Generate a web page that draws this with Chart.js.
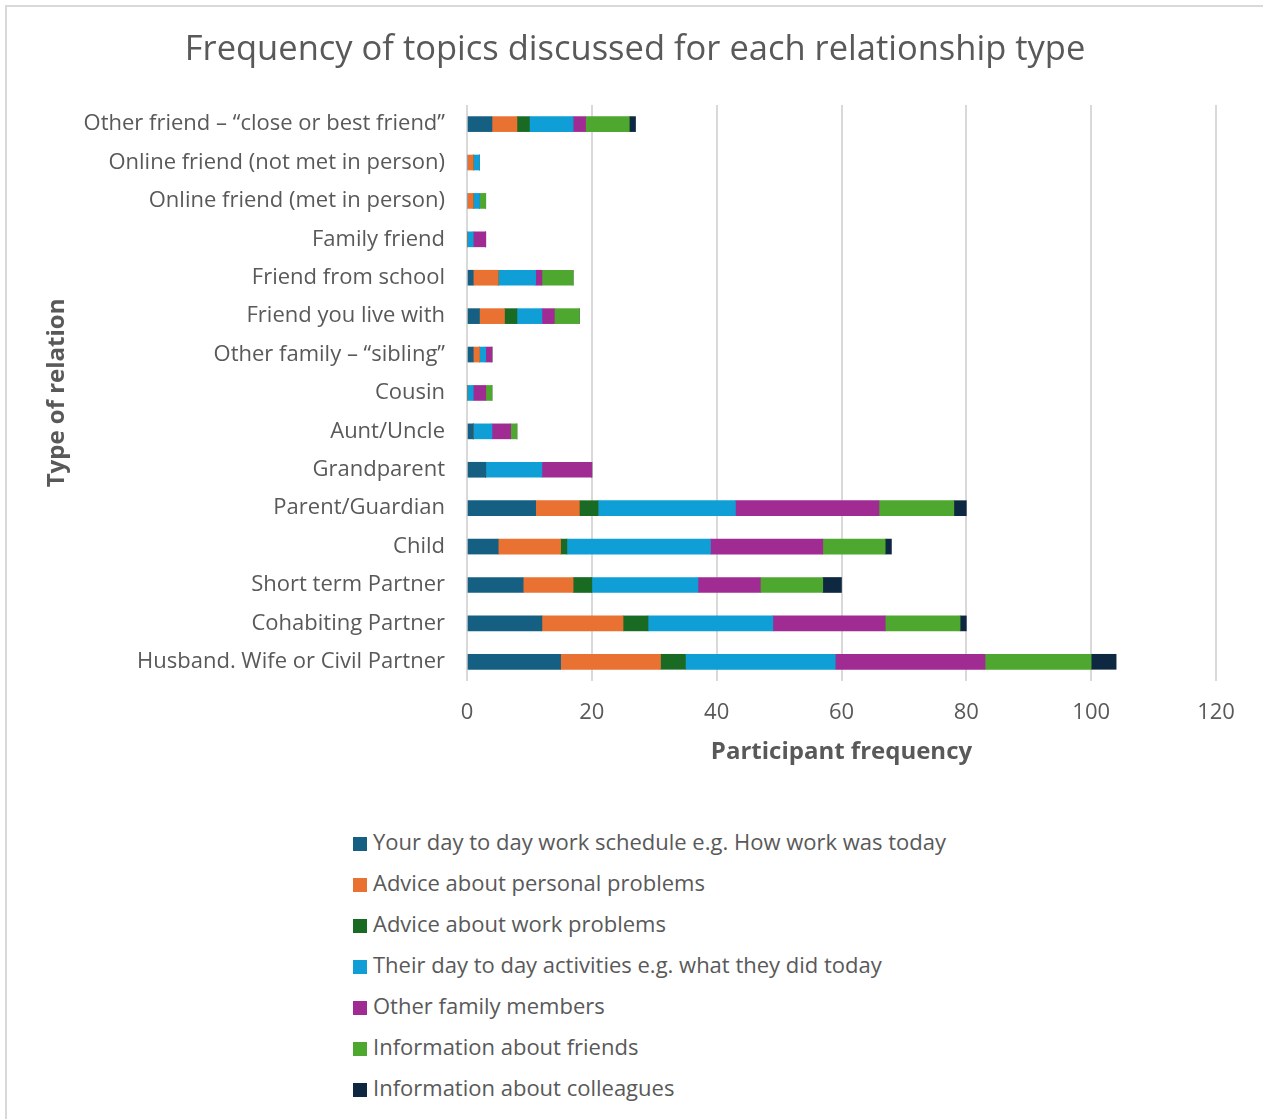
<!DOCTYPE html>
<html>
<head>
<meta charset="utf-8">
<script src="https://cdn.jsdelivr.net/npm/chart.js@4/dist/chart.umd.min.js"></script>
<style>
    body { margin: 0; background: #fff; font-family: "Open Sans", sans-serif; }
    #frame { position: absolute; left: 5px; top: 5px; width: 1258px; height: 1114px;
             border-left: 2px solid #d9d9d9; border-top: 2px solid #d9d9d9; }
    #wrap { position: absolute; left: 0; top: 0; width: 1263px; height: 800px; }
    #legend { position: absolute; left: 353px; top: 827px; color: #595959; font-size: 22px; }
    #legend div { height: 41px; line-height: 28px; white-space: nowrap; }
    #legend span { display: inline-block; width: 14px; height: 14px; margin-right: 6px; vertical-align: -1px; }
</style>
</head>
<body>
<div id="frame"></div>
<div id="wrap"><canvas id="chart"></canvas></div>
<div id="legend"></div>
<script>
    "use strict";

    var relations = [
        'Other friend \u2013 \u201cclose or best friend\u201d',
        'Online friend (not met in person)',
        'Online friend (met in person)',
        'Family friend',
        'Friend from school',
        'Friend you live with',
        'Other family \u2013 \u201csibling\u201d',
        'Cousin',
        'Aunt/Uncle',
        'Grandparent',
        'Parent/Guardian',
        'Child',
        'Short term Partner',
        'Cohabiting Partner',
        'Husband. Wife or Civil Partner'
    ];

    var topics = [
        'Your day to day work schedule e.g. How work was today',
        'Advice about personal problems',
        'Advice about work problems',
        'Their day to day activities e.g. what they did today',
        'Other family members',
        'Information about friends',
        'Information about colleagues'
    ];

    var topicColors = ['#156082', '#e97132', '#196b24', '#0f9ed5', '#a02b93', '#4ea72e', '#0e2841'];

    // one array per topic, same order as relations
    var workSchedule    = [4, 0, 0, 0, 1, 2, 1, 0, 1, 3, 11, 5, 9, 12, 15];
    var personalAdvice  = [4, 1, 1, 0, 4, 4, 1, 0, 0, 0, 7, 10, 8, 13, 16];
    var workAdvice      = [2, 0, 0, 0, 0, 2, 0, 0, 0, 0, 3, 1, 3, 4, 4];
    var dayActivities   = [7, 1, 1, 1, 6, 4, 1, 1, 3, 9, 22, 23, 17, 20, 24];
    var familyMembers   = [2, 0, 0, 2, 1, 2, 1, 2, 3, 8, 23, 18, 10, 18, 24];
    var friendsInfo     = [7, 0, 1, 0, 5, 4, 0, 1, 1, 0, 12, 10, 10, 12, 17];
    var colleaguesInfo  = [1, 0, 0, 0, 0, 0, 0, 0, 0, 0, 2, 1, 3, 1, 4];

    var xTicks = [0, 20, 40, 60, 80, 100, 120];

    var series = [workSchedule, personalAdvice, workAdvice, dayActivities,
                  familyMembers, friendsInfo, colleaguesInfo];

    var textColor = '#595959';
    var fontFamily = '"Open Sans", sans-serif';

    var datasets = series.map(function(values, i) {
        return {
            label: topics[i],
            data: values,
            backgroundColor: topicColors[i],
            barThickness: 15
        };
    });

    new Chart(document.getElementById('chart'), {
        type: 'bar',
        data: { labels: relations, datasets: datasets },
        options: {
            indexAxis: 'y',
            responsive: true,
            maintainAspectRatio: false,
            animation: false,
            layout: { padding: { left: 54, right: 47, top: 0, bottom: 0 } },
            plugins: {
                legend: { display: false },
                tooltip: { enabled: false },
                title: {
                    display: true,
                    text: 'Frequency of topics discussed for each relationship type',
                    color: textColor,
                    font: { family: fontFamily, size: 34.5, weight: 'normal' },
                    padding: { top: 29, bottom: 34.5 }
                }
            },
            scales: {
                x: {
                    stacked: true,
                    min: 0,
                    max: 120,
                    afterBuildTicks: function(scale) {
                        scale.ticks = xTicks.map(function(v) { return { value: v }; });
                    },
                    afterFit: function(scale) { scale.height = 119; },
                    grid: { color: '#d9d9d9', lineWidth: 2, drawTicks: false },
                    border: { display: false },
                    ticks: { color: textColor, padding: 19, font: { family: fontFamily, size: 22 } },
                    title: {
                        display: true,
                        text: 'Participant frequency',
                        color: textColor,
                        font: { family: fontFamily, size: 24, weight: 'bold' },
                        padding: { top: 0, bottom: 33.6 }
                    }
                },
                y: {
                    stacked: true,
                    afterFit: function(scale) { scale.width = 413; },
                    grid: { display: false },
                    border: { display: false },
                    ticks: { color: textColor, padding: 14, font: { family: fontFamily, size: 22 } },
                    title: {
                        display: true,
                        text: 'Type of relation',
                        color: textColor,
                        font: { family: fontFamily, size: 24, weight: 'bold' },
                        padding: { top: -11, bottom: 0 }
                    }
                }
            }
        }
    });

    var legend = document.getElementById('legend');
    topics.forEach(function(name, i) {
        var row = document.createElement('div');
        var box = document.createElement('span');
        box.style.background = topicColors[i];
        row.appendChild(box);
        row.appendChild(document.createTextNode(name));
        legend.appendChild(row);
    });
</script>
</body>
</html>
